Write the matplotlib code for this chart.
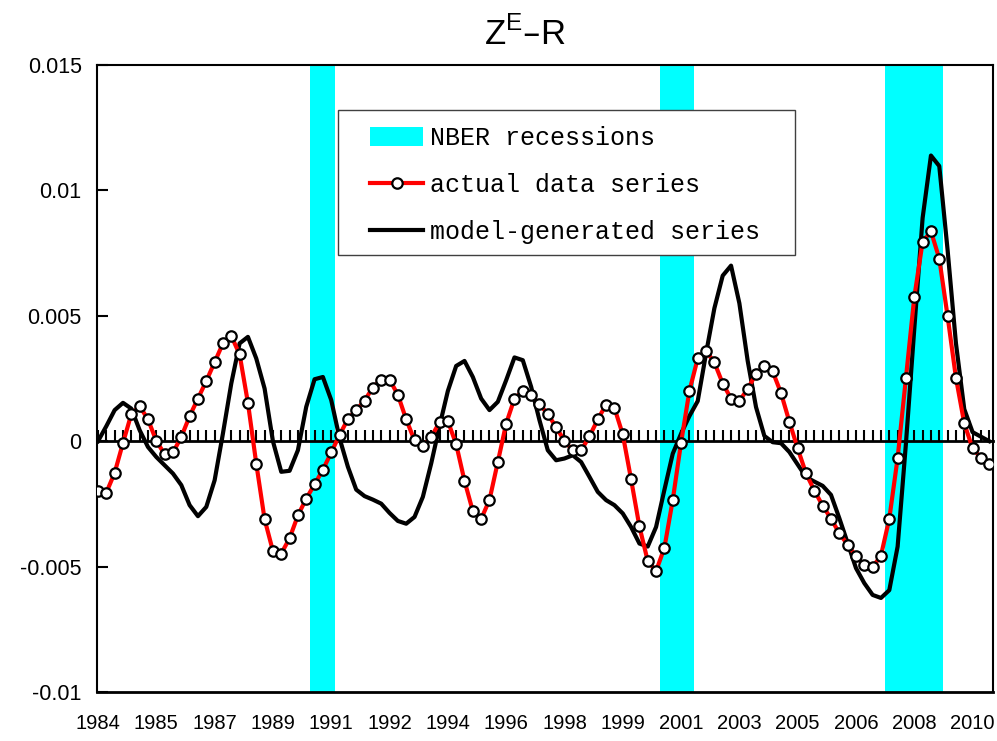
import numpy as np
import matplotlib
matplotlib.use("Agg")
import matplotlib.pyplot as plt
from matplotlib.patches import Patch, Rectangle
from matplotlib.lines import Line2D

# quarterly data, 1984Q1 .. 2010Q4
start_year = 1984
actual = [
    -0.00198, -0.00205, -0.00126, -0.00007, 0.00108, 0.0014, 0.00087, 0.00001,
    -0.00052, -0.00045, 0.00017, 0.001, 0.0017, 0.0024, 0.00315, 0.0039,
    0.0042, 0.00346, 0.00153, -0.00089, -0.00311, -0.00438, -0.00448, -0.00387,
    -0.00296, -0.00229, -0.00172, -0.00114, -0.00045, 0.00025, 0.00088, 0.00124,
    0.00162, 0.00214, 0.00246, 0.00246, 0.00185, 0.00087, 0.00003, -0.00021,
    0.00017, 0.00075, 0.0008, -0.00012, -0.00158, -0.00279, -0.0031, -0.00234,
    -0.00083, 0.0007, 0.0017, 0.002, 0.00183, 0.00148, 0.00108, 0.00056,
    0.00001, -0.00037, -0.00037, 0.00019, 0.00087, 0.00146, 0.00133, 0.00027,
    -0.00152, -0.0034, -0.00478, -0.00518, -0.00425, -0.00235, -0.00006, 0.002,
    0.0033, 0.0036, 0.00314, 0.0023, 0.0017, 0.0016, 0.00209, 0.00268,
    0.003, 0.00278, 0.00192, 0.00078, -0.00029, -0.00128, -0.00197, -0.00257,
    -0.00309, -0.00367, -0.00413, -0.00458, -0.00495, -0.00502, -0.00456, -0.00309,
    -0.00067, 0.00253, 0.00574, 0.00795, 0.00837, 0.00728, 0.00498, 0.00253,
    0.00071, -0.00029, -0.00066, -0.0009,
]
model = [
    0.0, 0.0006, 0.00124, 0.00153, 0.0013, 0.00044, -0.00023, -0.00063,
    -0.00096, -0.00129, -0.00175, -0.00255, -0.00299, -0.00262, -0.00156, 0.00031,
    0.0023, 0.0039, 0.00416, 0.0033, 0.0021, 0.0, -0.00122, -0.00118,
    -0.00036, 0.00137, 0.00247, 0.00256, 0.00164, 0.00012, -0.00102, -0.00193,
    -0.00219, -0.00233, -0.00249, -0.00286, -0.00318, -0.00329, -0.00302, -0.00222,
    -0.00089, 0.0006, 0.002, 0.003, 0.0032, 0.00256, 0.0017, 0.00124,
    0.00157, 0.00243, 0.00334, 0.00323, 0.00217, 0.00084, -0.00036, -0.00076,
    -0.00069, -0.00056, -0.00083, -0.00142, -0.00202, -0.00235, -0.00255, -0.00288,
    -0.00342, -0.00408, -0.0042, -0.00342, -0.00194, -0.0005, 0.0003, 0.001,
    0.0016, 0.0035, 0.0053, 0.0066, 0.007, 0.0055, 0.0032, 0.00136,
    0.00021, -0.00004, -0.00008, -0.00043, -0.00093, -0.00143, -0.00161, -0.00178,
    -0.00214, -0.00307, -0.00406, -0.00506, -0.00566, -0.00613, -0.00625, -0.00594,
    -0.0042, -0.00008, 0.00448, 0.0089, 0.01139, 0.01097, 0.00762, 0.00391,
    0.00128, 0.00036, 0.00018, 0.0,
]
recessions = [("1990Q3", "1991Q1"), ("2001Q1", "2001Q4"), ("2007Q4", "2009Q2")]
label_step = 7
yticks = [-0.01, -0.005, 0, 0.005, 0.01, 0.015]
ytick_labels = ["-0.01", "-0.005", "0", "0.005", "0.01", "0.015"]
legend_labels = ["NBER recessions", "actual data series", "model-generated series"]


def qindex(s):
    y, q = s.split("Q")
    return (int(y) - start_year) * 4 + int(q) - 1


x = np.arange(len(actual))
years = [str(start_year + i // 4) for i in x]
sans = ["Liberation Sans", "DejaVu Sans"]
mono = ["Liberation Mono", "DejaVu Sans Mono"]
cyan = "#00ffff"

fig = plt.figure(figsize=(9.97, 7.41), dpi=100)
ax = fig.add_axes([97 / 997, 49 / 741, 896 / 997, 627 / 741])

for s, e in recessions:
    ax.axvspan(qindex(s) - 0.5, qindex(e) + 0.5, color=cyan, lw=0, zorder=0)

ax.plot(x, model, color="black", lw=3, zorder=3)
ax.plot(x, actual, color="red", lw=3, marker="o", ms=7.5, mfc="white",
        mec="black", mew=1.6, zorder=4)

ax.set_xlim(-0.12, 107.45)
ax.set_ylim(-0.01, 0.015)

# category axis crossing at zero, ticks every quarter
ax.spines["bottom"].set_position(("data", 0))
ax.spines["bottom"].set_linewidth(2)
ax.set_xticks(x)
ax.tick_params(axis="x", direction="in", length=8, width=1.5, labelbottom=False)
for side in ["left", "right", "top"]:
    ax.spines[side].set_linewidth(1.5)

sec = ax.secondary_xaxis(0.0)
sec.set_xticks(x[::label_step], [years[i] for i in x[::label_step]])
sec.tick_params(length=0, pad=16, labelsize=14.5)
for t in sec.get_xticklabels():
    t.set_family(sans)
sec.spines["bottom"].set_linewidth(2)

ax.set_yticks(yticks, ytick_labels)
ax.tick_params(axis="y", direction="in", length=8, width=1.5, pad=11, labelsize=15.5)
for t in ax.get_yticklabels():
    t.set_family(sans)

fig.text(525 / 997, 1 - 34 / 741, r"Z$^{\mathregular{E}}$–R", ha="center",
         va="center", fontsize=25, family=sans)

# legend box
ax.add_patch(Rectangle((0.269, 0.697), 0.51, 0.231, transform=ax.transAxes,
                       facecolor="white", edgecolor="#404040", lw=1, zorder=5))
handles = [
    Patch(facecolor=cyan, edgecolor="none"),
    Line2D([], [], color="red", lw=3, marker="o", ms=7.5, mfc="white", mec="black", mew=1.6),
    Line2D([], [], color="black", lw=3),
]
leg = ax.legend(handles, legend_labels, loc="upper left", bbox_to_anchor=(0.305, 0.902),
                frameon=False, prop={"family": mono, "size": 18}, handlelength=2.1,
                handleheight=0.8, handletextpad=0.3, labelspacing=0.92, borderpad=0,
                borderaxespad=0, numpoints=1)
leg.set_zorder(6)

fig.savefig("out.png", dpi=100)
